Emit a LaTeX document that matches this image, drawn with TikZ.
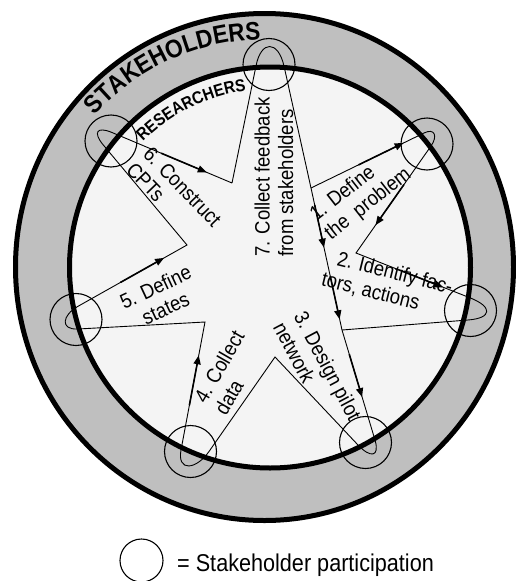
\documentclass[tikz,border=0pt]{standalone}
\usepackage{fontspec}
\setmainfont{Liberation Sans}[FakeStretch=0.89]
\usetikzlibrary{arrows.meta,calc,decorations.text}
\definecolor{ringgray}{gray}{0.75}
\definecolor{innergray}{gray}{0.957}
\newcommand\stkfont{\bfseries\fontsize{25.5}{26}\selectfont}
\newcommand\resfont{\bfseries\fontsize{17.2}{18}\selectfont}
\begin{document}
\begin{tikzpicture}[x=1pt,y=-1pt,
  starline/.style={line width=0.9pt},
  arrowseg/.style={line width=1.6pt,-{Triangle[length=9pt,width=7pt]}},
  smallcirc/.style={draw,circle,line width=1.1pt,inner sep=0pt},
  lbl/.style={font=\fontsize{20.8}{23.5}\selectfont,inner sep=0pt,align=left}]
\useasboundingbox (0,0) rectangle (516,581);
\clip (0,0) rectangle (516,581);
% rings
\draw[line width=5pt,fill=ringgray] (264.5,267) ellipse[x radius=249,y radius=253.5];
\draw[line width=5pt,fill=innergray] (270,267.5) circle[radius=200.5];
% curved titles
\path[decorate,decoration={text along path,text align=center,
  text={|\stkfont|STAKEHOLDERS}}]
  (264.5,267) ++(-159.6:227.5) arc[start angle=-159.6,end angle=-69.6,radius=227.5];
\path[decorate,decoration={text along path,text align=center,
  text={|\resfont|RESEARCHERS}}]
  (270,267.5) ++(-156.5:178.5) arc[start angle=-156.5,end angle=-76.5,radius=178.5];
% inner vertices
\coordinate (V71) at (311,188);
\coordinate (V12) at (356,253);
\coordinate (V23) at (342,330);
\coordinate (V34) at (275,357);
\coordinate (V45) at (205,322);
\coordinate (V56) at (187,245);
\coordinate (V67) at (232,183);
% tip curves
\coordinate (A7) at (256,66);   \coordinate (C7a) at (261,40);
\coordinate (C7b) at (278,40);  \coordinate (B7) at (284,66);
\coordinate (A1) at (424,133);  \coordinate (C1a) at (434.8,127.7);
\coordinate (C1b) at (437.9,136.2); \coordinate (B1) at (431,146);
\coordinate (A2) at (470,297.8); \coordinate (C2a) at (492.8,306.8);
\coordinate (C2b) at (492.4,318.1); \coordinate (B2) at (468,320);
\coordinate (A3) at (375,440);  \coordinate (C3a) at (380,457.3);
\coordinate (C3b) at (370.3,458.1); \coordinate (B3) at (358,445);
\coordinate (A4) at (209,451.5); \coordinate (C4a) at (196.1,469.9);
\coordinate (C4b) at (176.9,472.1); \coordinate (B4) at (181,450);
\coordinate (A5) at (78,329);   \coordinate (C5a) at (59.8,330);
\coordinate (C5b) at (62.1,315.2); \coordinate (B5) at (78,306.3);
\coordinate (A6) at (103.3,145); \coordinate (C6a) at (92.7,132.3);
\coordinate (C6b) at (96.8,126.1); \coordinate (B6) at (112,132.5);
% star
\draw[starline] (V67) -- (A7) .. controls (C7a) and (C7b) .. (B7) -- (V71) -- (V23)
  -- (A3) .. controls (C3a) and (C3b) .. (B3) -- (V34)
  -- (A4) .. controls (C4a) and (C4b) .. (B4) -- (V45)
  -- (A5) .. controls (C5a) and (C5b) .. (B5) -- (V56)
  -- (A6) .. controls (C6a) and (C6b) .. (B6) -- (V67);
\draw[starline] (V71) -- (A1) .. controls (C1a) and (C1b) .. (B1) -- (V12)
  -- (A2) .. controls (C2a) and (C2b) .. (B2) -- (V23);
% arrows
\draw[arrowseg] ($(V71)!0.42!(A1)$) -- ($(V71)!0.82!(A1)$);
\draw[arrowseg] ($(B1)!0.36!(V12)$) -- ($(B1)!0.74!(V12)$);
\draw[arrowseg] ($(V12)!0.38!(A2)$) -- ($(V12)!0.765!(A2)$);
\draw[arrowseg] ($(V71)!0.12!(V23)$) -- ($(V71)!0.42!(V23)$);
\draw[arrowseg] ($(V71)!0.62!(V23)$) -- ($(V71)!0.925!(V23)$);
\draw[arrowseg] ($(V23)!0.22!(A3)$) -- ($(V23)!0.61!(A3)$);
\draw[arrowseg] ($(B4)!0.35!(V45)$) -- ($(B4)!0.74!(V45)$);
\draw[arrowseg] ($(B5)!0.39!(V56)$) -- ($(B5)!0.79!(V56)$);
\draw[arrowseg] ($(B6)!0.41!(V67)$) -- ($(B6)!0.79!(V67)$);
% stakeholder participation circles
\node[smallcirc,minimum size=52pt] (c7) at (269,64.5) {};
\node[smallcirc,minimum size=52pt] (c1) at (427,144) {};
\node[smallcirc,minimum size=52pt] (c2) at (470.5,310.5) {};
\node[smallcirc,minimum size=52pt] (c3) at (365.5,442.5) {};
\node[smallcirc,minimum size=52pt] (c4) at (190.5,451.5) {};
\node[smallcirc,minimum size=52pt] (c5) at (76,319.5) {};
\node[smallcirc,minimum size=52pt] (c6) at (111,141) {};
% labels
\node[lbl,rotate=90] (l7) at (274,177) {7. Collect feedback\\from stakeholders};
\node[lbl,rotate=38] (l1) at (361,195) {1. Define\\the\ \ problem};
\node[lbl,rotate=-14] (l2) at (392,285) {2. Identify fac-\\\hspace*{-10pt}tors, actions};
\node[lbl,rotate=-62] (l3) at (317.6,371.3) {3. Design pilot\\network};
\node[lbl,rotate=60] (l4) at (229.3,372.8) {4. Collect\\data};
\node[lbl,rotate=25,align=center] (l5) at (160.5,297.5) {5. Define\\states};
\node[lbl,rotate=-46] (l6) at (174,194.7) {6. Construct\\CPTs};
% legend
\node[smallcirc,minimum size=43pt] (leg) at (141.5,560.5) {};
\node[anchor=base west,inner sep=0pt,font=\fontsize{24.3}{26}\selectfont] (legtxt) at (177,571) {= Stakeholder participation};
\end{tikzpicture}
\end{document}
